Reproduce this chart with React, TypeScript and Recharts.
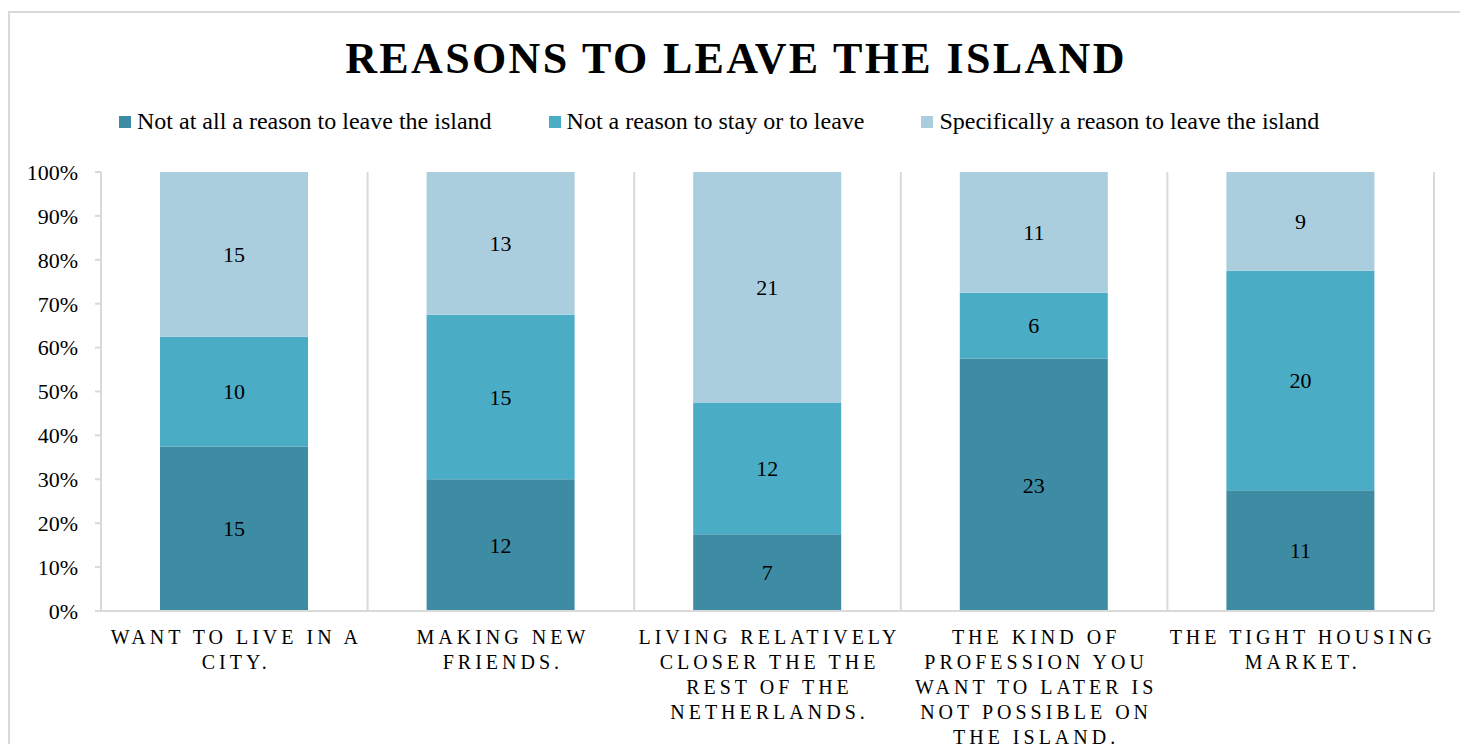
import { BarChart, Bar, XAxis, YAxis, CartesianGrid, Legend, LabelList } from 'recharts';

// category labels, one line per wrapped row
const categories = [
  'WANT TO LIVE IN A\nCITY.',
  'MAKING NEW\nFRIENDS.',
  'LIVING RELATIVELY\nCLOSER THE THE\nREST OF THE\nNETHERLANDS.',
  'THE KIND OF\nPROFESSION YOU\nWANT TO LATER IS\nNOT POSSIBLE ON\nTHE ISLAND.',
  'THE TIGHT HOUSING\nMARKET.',
];

const notAtAll = [15, 12, 7, 23, 11];
const neutral = [10, 15, 12, 6, 20];
const specifically = [15, 13, 21, 11, 9];

const seriesNames = [
  'Not at all a reason to leave the island',
  'Not a reason to stay or to leave',
  'Specifically a reason to leave the island',
];
const seriesColors = ['#3e8ca4', '#4bacc6', '#aacedd'];

const yTicks = [0, 0.1, 0.2, 0.3, 0.4, 0.5, 0.6, 0.7, 0.8, 0.9, 1];

const data = categories.map((name, i) => ({
  name,
  notAtAll: notAtAll[i],
  neutral: neutral[i],
  specifically: specifically[i],
}));

const FONT = '"Liberation Serif", "Times New Roman", serif';
const GRID = '#d9d9d9';

function CategoryTick({ x, y, payload }: any) {
  const lines = String(payload.value).split('\n');
  return (
    <text
      x={x}
      y={y + 33}
      textAnchor="middle"
      fill="#000"
      fontSize={20}
      fontFamily={FONT}
      letterSpacing={4}
    >
      {lines.map((line, i) => (
        <tspan key={i} x={x + 2} dy={i === 0 ? 0 : 25}>
          {line}
        </tspan>
      ))}
    </text>
  );
}

function LegendContent() {
  return (
    <div style={{ display: 'flex', paddingLeft: 109, fontFamily: FONT, fontSize: 24, color: '#000' }}>
      {seriesNames.map((n, i) => (
        <div key={n} style={{ display: 'flex', alignItems: 'center', marginRight: 57 }}>
          <span style={{ width: 12, height: 12, background: seriesColors[i], marginRight: 6, display: 'inline-block' }} />
          <span>{n}</span>
        </div>
      ))}
    </div>
  );
}

export default function App() {
  return (
    <div
      style={{
        position: 'relative',
        marginTop: 3,
        width: 1452,
        height: 731,
        border: `2px solid ${GRID}`,
        borderBottom: 'none',
        fontFamily: FONT,
        background: '#fff',
      }}
    >
      <div
        style={{
          position: 'absolute',
          top: 20,
          left: 0,
          width: 1452,
          textAlign: 'center',
          fontSize: 44,
          fontWeight: 'bold',
          letterSpacing: 2.35,
          color: '#000',
        }}
      >
        REASONS TO LEAVE THE ISLAND
      </div>
      <BarChart
        width={1452}
        height={731}
        data={data}
        stackOffset="expand"
        margin={{ top: 159, right: 28, left: 0, bottom: 0 }}
      >
        <CartesianGrid
          horizontal={false}
          stroke={GRID}
          strokeWidth={2}
          verticalCoordinatesGenerator={({ offset }: any) =>
            categories.map((_, i) => offset.left + (i * offset.width) / categories.length).concat(offset.left + offset.width)
          }
        />
        <XAxis
          dataKey="name"
          interval={0}
          height={133}
          tickLine={false}
          tickSize={0}
          tickMargin={0}
          axisLine={{ stroke: GRID, strokeWidth: 2 }}
          tick={<CategoryTick />}
        />
        <YAxis
          width={91}
          domain={[0, 1]}
          ticks={yTicks}
          tickFormatter={(v: number) => `${Math.round(v * 100)}%`}
          axisLine={{ stroke: GRID, strokeWidth: 2 }}
          tickLine={{ stroke: GRID, strokeWidth: 2 }}
          tickSize={6}
          tickMargin={17}
          tick={{ fill: '#000', fontSize: 22, fontFamily: FONT }}
        />
        <Legend
          verticalAlign="middle"
          layout="horizontal"
          wrapperStyle={{ top: 95, left: 0, width: 1452 }}
          content={<LegendContent />}
        />
        <Bar dataKey="notAtAll" stackId="a" fill={seriesColors[0]} barSize={148} isAnimationActive={false}>
          <LabelList dataKey="notAtAll" position="center" fill="#000" fontSize={22} fontFamily={FONT} />
        </Bar>
        <Bar dataKey="neutral" stackId="a" fill={seriesColors[1]} barSize={148} isAnimationActive={false}>
          <LabelList dataKey="neutral" position="center" fill="#000" fontSize={22} fontFamily={FONT} />
        </Bar>
        <Bar dataKey="specifically" stackId="a" fill={seriesColors[2]} barSize={148} isAnimationActive={false}>
          <LabelList dataKey="specifically" position="center" fill="#000" fontSize={22} fontFamily={FONT} />
        </Bar>
      </BarChart>
    </div>
  );
}
